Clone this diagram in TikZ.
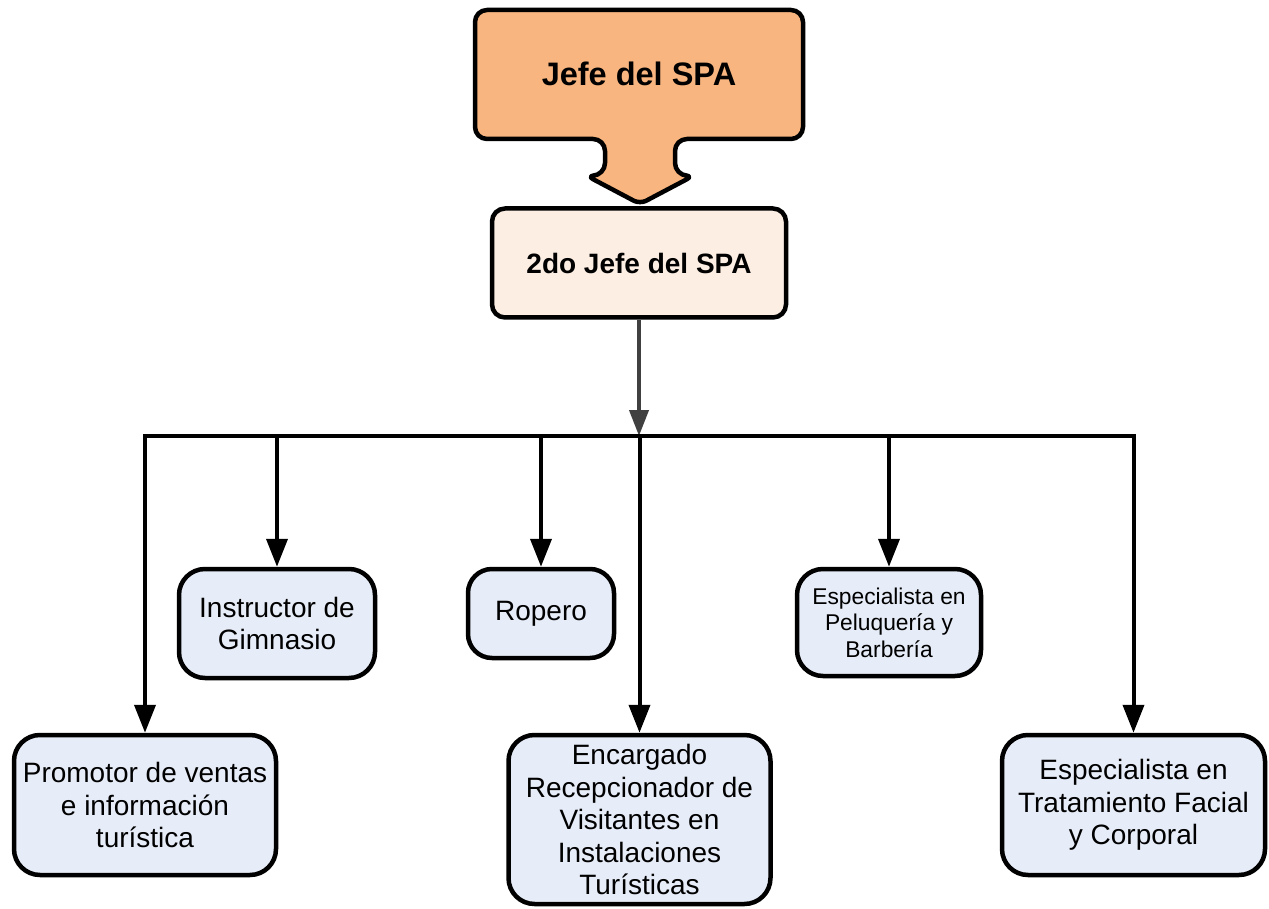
\documentclass[tikz,border=0pt]{standalone}
\usepackage{fontspec}
\setmainfont{Liberation Sans}
\usetikzlibrary{arrows.meta}
\definecolor{topfill}{HTML}{F8B57F}
\definecolor{secfill}{HTML}{FDEEE3}
\definecolor{boxfill}{HTML}{E7EDF8}
\definecolor{grayline}{HTML}{404040}
\tikzset{
  unitbox/.style={draw=black, line width=4.5pt, fill=boxfill, rounded corners=26pt, align=center, inner sep=0pt,
    font=\fontsize{28}{32.5}\selectfont},
  smallbox/.style={unitbox, font=\fontsize{22.8}{26.5}\selectfont},
  secbox/.style={draw=black, line width=4.5pt, fill=secfill, rounded corners=13pt, align=center, inner sep=0pt,
    font=\bfseries\fontsize{28}{30}\selectfont},
  busline/.style={line width=4pt, draw=black},
  droparrow/.style={line width=4pt, draw=black, -{Triangle[length=28pt,width=21pt]}},
  grayarrow/.style={line width=4pt, draw=grayline, -{Triangle[length=26pt,width=19pt]}},
}
\begin{document}
\begin{tikzpicture}[x=1pt,y=-1pt]
\useasboundingbox (0,0) rectangle (1269,909);
% top callout shape
\draw[line width=4.5pt, fill=topfill, rounded corners=12pt, line join=round]
  (640,204) [rounded corners=7pt] -- (587,176) [rounded corners=12pt] -- (605,175) -- (605,139) -- (475,139) -- (475,10) -- (803,10) -- (803,139)
  -- (675,139) -- (675,175) [rounded corners=7pt] -- (693,176) -- cycle;
\node[font=\bfseries\fontsize{32.5}{36}\selectfont] (jefe) at (639,74) {Jefe del SPA};
\node[secbox, minimum width=294pt, minimum height=109pt] (jefe2) at (639,263) {2do Jefe del SPA};

\node[unitbox, minimum width=262pt, minimum height=140pt] (promotor) at (145,805) {Promotor de ventas\\e información\\turística};
\node[unitbox, minimum width=196pt, minimum height=109pt] (instructor) at (277,623.5) {Instructor de\\Gimnasio};
\node[unitbox, minimum width=146pt, minimum height=89pt, rounded corners=24pt] (ropero) at (541,613.5) {Ropero};
\node[unitbox, minimum width=262pt, minimum height=169pt] (encargado) at (639.5,819.5) {Encargado\\Recepcionador de\\Visitantes en\\Instalaciones\\Turísticas};
\node[smallbox, minimum width=184pt, minimum height=107pt] (pelu) at (889,622.5) {Especialista en\\Peluquería y\\Barbería};
\node[unitbox, minimum width=263pt, minimum height=140pt] (trata) at (1133.5,805) {Especialista en\\Tratamiento Facial\\y Corporal};

\coordinate (busL) at (145,436);
\coordinate (busR) at (1133.5,436);
\coordinate (busC) at (639,436);
\draw[grayarrow] (jefe2.south) -- (busC);
\draw[busline, line cap=rect] (busL) -- (busR);
\draw[droparrow] (promotor.north |- busL) -- (promotor.north);
\draw[droparrow] (instructor.north |- busL) -- (instructor.north);
\draw[droparrow] (ropero.north |- busL) -- (ropero.north);
\draw[droparrow] (encargado.north |- busL) -- (encargado.north);
\draw[droparrow] (pelu.north |- busL) -- (pelu.north);
\draw[droparrow] (trata.north |- busL) -- (trata.north);
\end{tikzpicture}
\end{document}
